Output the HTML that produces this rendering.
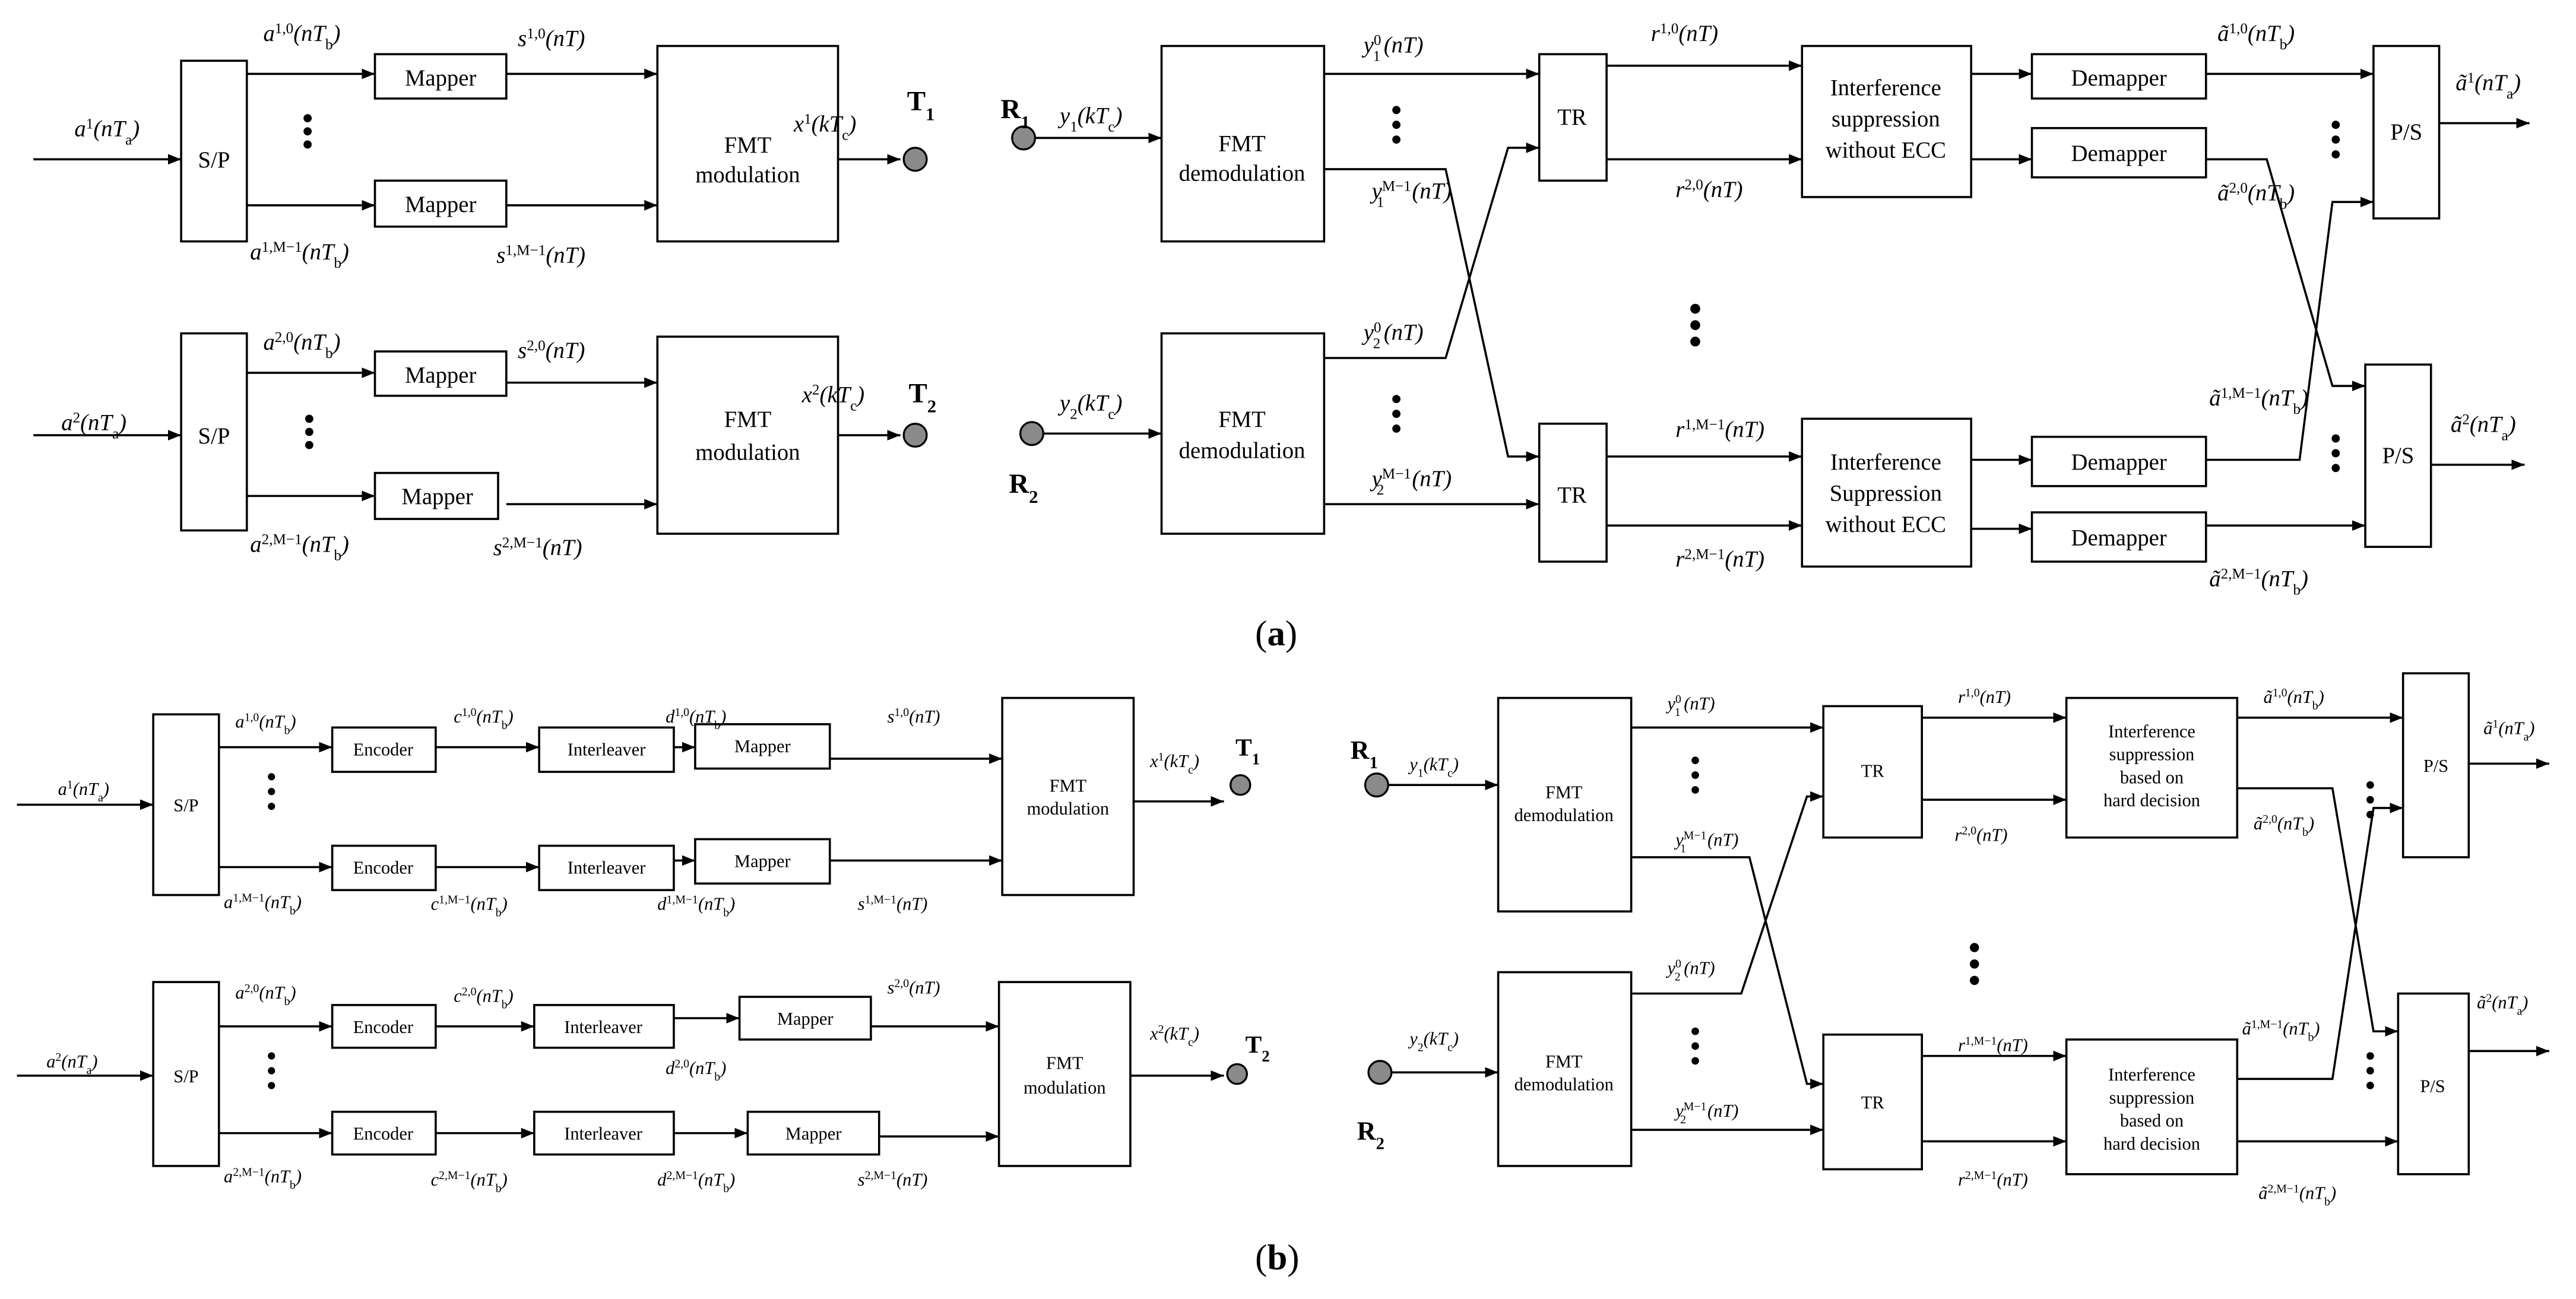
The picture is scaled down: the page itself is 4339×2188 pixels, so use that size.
<!DOCTYPE html>
<html><head><meta charset="utf-8"><style>
html,body{margin:0;padding:0;background:#fff}
svg{display:block}
text{font-family:"Liberation Serif",serif;fill:#000}
.L{font-size:14px;font-style:italic}
.S{font-size:11px;font-style:italic}
.B{font-style:normal;font-size:14px}
.Bs{font-style:normal;font-size:11px}
.sp{baseline-shift:super;font-size:65%;font-style:normal}
.sb{baseline-shift:sub;font-size:65%;font-style:normal}
.bf{font-weight:bold;font-style:normal;font-size:17px}
line,polyline,rect{stroke:#000;stroke-width:1.3;fill:none}
.c{fill:#8a8a8a;stroke:#000;stroke-width:1.2}
</style></head><body>
<svg width="4339" height="2188" viewBox="0 0 1568 791" xmlns="http://www.w3.org/2000/svg">
<defs><marker id="a" viewBox="0 0 10 10" refX="10" refY="5" markerWidth="8" markerHeight="8" markerUnits="userSpaceOnUse" orient="auto"><path d="M0,1L10,5L0,9z" fill="#000"/></marker></defs>

<!-- ===== (a) left ===== -->
<g marker-end="url(#a)">
<line x1="20" y1="97" x2="110" y2="97"/>
<line x1="150" y1="45" x2="228" y2="45"/>
<line x1="150" y1="125" x2="228" y2="125"/>
<line x1="308" y1="45" x2="400" y2="45"/>
<line x1="308" y1="125" x2="400" y2="125"/>
<line x1="510" y1="97" x2="548" y2="97"/>
<line x1="20" y1="265" x2="110" y2="265"/>
<line x1="150" y1="227" x2="228" y2="227"/>
<line x1="150" y1="302" x2="228" y2="302"/>
<line x1="308" y1="233" x2="400" y2="233"/>
<line x1="308" y1="307" x2="400" y2="307"/>
<line x1="510" y1="265" x2="548" y2="265"/>
</g>
<rect x="110" y="37" width="40" height="110"/>
<rect x="228" y="33" width="80" height="27"/>
<rect x="228" y="110" width="80" height="28"/>
<rect x="400" y="28" width="110" height="119"/>
<rect x="110" y="203" width="40" height="120"/>
<rect x="228" y="214" width="80" height="27"/>
<rect x="228" y="288" width="75" height="28"/>
<rect x="400" y="205" width="110" height="120"/>
<text x="130" y="102" class="B" text-anchor="middle">S/P</text>
<text x="130" y="270" class="B" text-anchor="middle">S/P</text>
<text x="268" y="52" class="B" text-anchor="middle">Mapper</text>
<text x="268" y="129" class="B" text-anchor="middle">Mapper</text>
<text x="268" y="233" class="B" text-anchor="middle">Mapper</text>
<text x="266" y="307" class="B" text-anchor="middle">Mapper</text>
<text x="455" y="93" class="B" text-anchor="middle">FMT</text>
<text x="455" y="111" class="B" text-anchor="middle">modulation</text>
<text x="455" y="260" class="B" text-anchor="middle">FMT</text>
<text x="455" y="280" class="B" text-anchor="middle">modulation</text>
<g fill="#000"><circle cx="187" cy="72" r="2.5"/><circle cx="187" cy="80" r="2.5"/><circle cx="187" cy="88" r="2.5"/>
<circle cx="188" cy="255" r="2.5"/><circle cx="188" cy="263" r="2.5"/><circle cx="188" cy="271" r="2.5"/></g>
<circle class="c" cx="557" cy="97" r="7"/><circle class="c" cx="557" cy="265" r="7"/>
<text x="552" y="67" class="bf">T<tspan class="sb">1</tspan></text>
<text x="553" y="245" class="bf">T<tspan class="sb">2</tspan></text>
<text x="45" y="83" class="L">a<tspan class="sp">1</tspan>(nT<tspan class="sb">a</tspan>)</text>
<text x="37" y="262" class="L">a<tspan class="sp">2</tspan>(nT<tspan class="sb">a</tspan>)</text>
<text x="160" y="25" class="L">a<tspan class="sp">1,0</tspan>(nT<tspan class="sb">b</tspan>)</text>
<text x="152" y="158" class="L">a<tspan class="sp">1,M−1</tspan>(nT<tspan class="sb">b</tspan>)</text>
<text x="160" y="213" class="L">a<tspan class="sp">2,0</tspan>(nT<tspan class="sb">b</tspan>)</text>
<text x="152" y="336" class="L">a<tspan class="sp">2,M−1</tspan>(nT<tspan class="sb">b</tspan>)</text>
<text x="315" y="28" class="L">s<tspan class="sp">1,0</tspan>(nT)</text>
<text x="302" y="160" class="L">s<tspan class="sp">1,M−1</tspan>(nT)</text>
<text x="315" y="218" class="L">s<tspan class="sp">2,0</tspan>(nT)</text>
<text x="300" y="338" class="L">s<tspan class="sp">2,M−1</tspan>(nT)</text>
<text x="483" y="80" class="L">x<tspan class="sp">1</tspan>(kT<tspan class="sb">c</tspan>)</text>
<text x="488" y="245" class="L">x<tspan class="sp">2</tspan>(kT<tspan class="sb">c</tspan>)</text>

<!-- ===== (a) right ===== -->
<g marker-end="url(#a)">
<line x1="630" y1="84" x2="707" y2="84"/>
<line x1="635" y1="264" x2="707" y2="264"/>
<line x1="806" y1="45" x2="937" y2="45"/>
<polyline points="806,103 880,103 918,278 937,278"/>
<polyline points="806,218 880,218 918,90 937,90"/>
<line x1="806" y1="307" x2="937" y2="307"/>
<line x1="978" y1="40" x2="1097" y2="40"/>
<line x1="978" y1="97" x2="1097" y2="97"/>
<line x1="978" y1="278" x2="1097" y2="278"/>
<line x1="978" y1="320" x2="1097" y2="320"/>
<line x1="1200" y1="45" x2="1237" y2="45"/>
<line x1="1200" y1="97" x2="1237" y2="97"/>
<line x1="1200" y1="280" x2="1237" y2="280"/>
<line x1="1200" y1="322" x2="1237" y2="322"/>
<line x1="1343" y1="45" x2="1445" y2="45"/>
<polyline points="1343,97 1380,97 1420,235 1440,235"/>
<polyline points="1343,280 1400,280 1420,123 1445,123"/>
<line x1="1343" y1="320" x2="1440" y2="320"/>
<line x1="1485" y1="75" x2="1540" y2="75"/>
<line x1="1480" y1="283" x2="1537" y2="283"/>
</g>
<rect x="707" y="28" width="99" height="119"/>
<rect x="707" y="203" width="99" height="122"/>
<rect x="937" y="33" width="41" height="77"/>
<rect x="937" y="258" width="41" height="84"/>
<rect x="1097" y="28" width="103" height="92"/>
<rect x="1097" y="255" width="103" height="90"/>
<rect x="1237" y="33" width="106" height="27"/>
<rect x="1237" y="78" width="106" height="30"/>
<rect x="1237" y="266" width="106" height="30"/>
<rect x="1237" y="312" width="106" height="30"/>
<rect x="1445" y="28" width="40" height="105"/>
<rect x="1440" y="222" width="40" height="111"/>
<text x="756" y="92" class="B" text-anchor="middle">FMT</text>
<text x="756" y="110" class="B" text-anchor="middle">demodulation</text>
<text x="756" y="260" class="B" text-anchor="middle">FMT</text>
<text x="756" y="279" class="B" text-anchor="middle">demodulation</text>
<text x="957" y="76" class="B" text-anchor="middle">TR</text>
<text x="957" y="306" class="B" text-anchor="middle">TR</text>
<text x="1148" y="58" class="B" text-anchor="middle">Interference</text>
<text x="1148" y="77" class="B" text-anchor="middle">suppression</text>
<text x="1148" y="96" class="B" text-anchor="middle">without ECC</text>
<text x="1148" y="286" class="B" text-anchor="middle">Interference</text>
<text x="1148" y="305" class="B" text-anchor="middle">Suppression</text>
<text x="1148" y="324" class="B" text-anchor="middle">without ECC</text>
<text x="1290" y="52" class="B" text-anchor="middle">Demapper</text>
<text x="1290" y="98" class="B" text-anchor="middle">Demapper</text>
<text x="1290" y="286" class="B" text-anchor="middle">Demapper</text>
<text x="1290" y="332" class="B" text-anchor="middle">Demapper</text>
<text x="1465" y="85" class="B" text-anchor="middle">P/S</text>
<text x="1460" y="282" class="B" text-anchor="middle">P/S</text>
<g fill="#000">
<circle cx="850" cy="67" r="2.5"/><circle cx="850" cy="76" r="2.5"/><circle cx="850" cy="85" r="2.5"/>
<circle cx="850" cy="243" r="2.5"/><circle cx="850" cy="252" r="2.5"/><circle cx="850" cy="261" r="2.5"/>
<circle cx="1032" cy="188" r="3"/><circle cx="1032" cy="198" r="3"/><circle cx="1032" cy="208" r="3"/>
<circle cx="1422" cy="76" r="2.5"/><circle cx="1422" cy="85" r="2.5"/><circle cx="1422" cy="94" r="2.5"/>
<circle cx="1422" cy="267" r="2.5"/><circle cx="1422" cy="276" r="2.5"/><circle cx="1422" cy="285" r="2.5"/></g>
<circle class="c" cx="623" cy="84" r="7"/><circle class="c" cx="628" cy="264" r="7"/>
<text x="609" y="72" class="bf">R<tspan class="sb">1</tspan></text>
<text x="614" y="300" class="bf">R<tspan class="sb">2</tspan></text>
<text x="645" y="75" class="L">y<tspan class="sb">1</tspan>(kT<tspan class="sb">c</tspan>)</text>
<text x="645" y="250" class="L">y<tspan class="sb">2</tspan>(kT<tspan class="sb">c</tspan>)</text>
<text x="830" y="32" class="L">y<tspan class="sp">0</tspan><tspan dx="-5" class="sb">1</tspan><tspan dx="2">(nT)</tspan></text>
<text x="835" y="121" class="L">y<tspan class="sp">M−1</tspan><tspan dx="-21" class="sb">1</tspan><tspan dx="17">(nT)</tspan></text>
<text x="830" y="207" class="L">y<tspan class="sp">0</tspan><tspan dx="-5" class="sb">2</tspan><tspan dx="2">(nT)</tspan></text>
<text x="835" y="296" class="L">y<tspan class="sp">M−1</tspan><tspan dx="-21" class="sb">2</tspan><tspan dx="17">(nT)</tspan></text>
<text x="1005" y="25" class="L">r<tspan class="sp">1,0</tspan>(nT)</text>
<text x="1020" y="120" class="L">r<tspan class="sp">2,0</tspan>(nT)</text>
<text x="1020" y="266" class="L">r<tspan class="sp">1,M−1</tspan>(nT)</text>
<text x="1020" y="345" class="L">r<tspan class="sp">2,M−1</tspan>(nT)</text>
<text x="1350" y="25" class="L">ã<tspan class="sp">1,0</tspan>(nT<tspan class="sb">b</tspan>)</text>
<text x="1350" y="122" class="L">ã<tspan class="sp">2,0</tspan>(nT<tspan class="sb">b</tspan>)</text>
<text x="1345" y="247" class="L">ã<tspan class="sp">1,M−1</tspan>(nT<tspan class="sb">b</tspan>)</text>
<text x="1345" y="357" class="L">ã<tspan class="sp">2,M−1</tspan>(nT<tspan class="sb">b</tspan>)</text>
<text x="1495" y="55" class="L">ã<tspan class="sp">1</tspan>(nT<tspan class="sb">a</tspan>)</text>
<text x="1492" y="263" class="L">ã<tspan class="sp">2</tspan>(nT<tspan class="sb">a</tspan>)</text>
<text x="764" y="393" style="font-size:22px">(<tspan font-weight="bold">a</tspan>)</text>

<!-- ===== (b) left ===== -->
<g marker-end="url(#a)">
<line x1="10" y1="490" x2="93" y2="490"/>
<line x1="133" y1="455" x2="202" y2="455"/>
<line x1="265" y1="455" x2="328" y2="455"/>
<line x1="410" y1="455" x2="423" y2="455"/>
<line x1="505" y1="462" x2="610" y2="462"/>
<line x1="133" y1="528" x2="202" y2="528"/>
<line x1="265" y1="528" x2="328" y2="528"/>
<line x1="410" y1="524" x2="423" y2="524"/>
<line x1="505" y1="524" x2="610" y2="524"/>
<line x1="690" y1="488" x2="745" y2="488"/>
<line x1="10" y1="655" x2="93" y2="655"/>
<line x1="133" y1="625" x2="202" y2="625"/>
<line x1="265" y1="625" x2="325" y2="625"/>
<line x1="410" y1="620" x2="450" y2="620"/>
<line x1="530" y1="625" x2="608" y2="625"/>
<line x1="133" y1="690" x2="202" y2="690"/>
<line x1="265" y1="690" x2="325" y2="690"/>
<line x1="410" y1="690" x2="455" y2="690"/>
<line x1="535" y1="692" x2="608" y2="692"/>
<line x1="688" y1="655" x2="745" y2="655"/>
</g>
<rect x="93" y="435" width="40" height="110"/>
<rect x="202" y="443" width="63" height="27"/>
<rect x="328" y="443" width="82" height="27"/>
<rect x="423" y="441" width="82" height="27"/>
<rect x="202" y="515" width="63" height="27"/>
<rect x="328" y="515" width="82" height="27"/>
<rect x="423" y="511" width="82" height="27"/>
<rect x="610" y="425" width="80" height="120"/>
<rect x="93" y="598" width="40" height="112"/>
<rect x="202" y="612" width="63" height="26"/>
<rect x="325" y="612" width="85" height="26"/>
<rect x="450" y="607" width="80" height="26"/>
<rect x="202" y="677" width="63" height="26"/>
<rect x="325" y="677" width="85" height="26"/>
<rect x="455" y="677" width="80" height="26"/>
<rect x="608" y="598" width="80" height="112"/>
<g text-anchor="middle">
<text x="113" y="494" class="Bs">S/P</text><text x="113" y="659" class="Bs">S/P</text>
<text x="233" y="460" class="Bs">Encoder</text><text x="233" y="532" class="Bs">Encoder</text>
<text x="233" y="629" class="Bs">Encoder</text><text x="233" y="694" class="Bs">Encoder</text>
<text x="369" y="460" class="Bs">Interleaver</text><text x="369" y="532" class="Bs">Interleaver</text>
<text x="367" y="629" class="Bs">Interleaver</text><text x="367" y="694" class="Bs">Interleaver</text>
<text x="464" y="458" class="Bs">Mapper</text><text x="464" y="528" class="Bs">Mapper</text>
<text x="490" y="624" class="Bs">Mapper</text><text x="495" y="694" class="Bs">Mapper</text>
<text x="650" y="482" class="Bs">FMT</text><text x="650" y="496" class="Bs">modulation</text>
<text x="648" y="651" class="Bs">FMT</text><text x="648" y="666" class="Bs">modulation</text>
</g>
<g fill="#000">
<circle cx="165" cy="473" r="2.2"/><circle cx="165" cy="482" r="2.2"/><circle cx="165" cy="491" r="2.2"/>
<circle cx="165" cy="643" r="2.2"/><circle cx="165" cy="652" r="2.2"/><circle cx="165" cy="661" r="2.2"/></g>
<circle class="c" cx="755" cy="478" r="6"/><circle class="c" cx="753" cy="654" r="6"/>
<text x="752" y="460" class="bf" style="font-size:15px">T<tspan class="sb">1</tspan></text>
<text x="758" y="641" class="bf" style="font-size:15px">T<tspan class="sb">2</tspan></text>
<text x="35" y="484" class="S">a<tspan class="sp">1</tspan>(nT<tspan class="sb">a</tspan>)</text>
<text x="28" y="650" class="S">a<tspan class="sp">2</tspan>(nT<tspan class="sb">a</tspan>)</text>
<text x="143" y="443" class="S">a<tspan class="sp">1,0</tspan>(nT<tspan class="sb">b</tspan>)</text>
<text x="136" y="553" class="S">a<tspan class="sp">1,M−1</tspan>(nT<tspan class="sb">b</tspan>)</text>
<text x="143" y="608" class="S">a<tspan class="sp">2,0</tspan>(nT<tspan class="sb">b</tspan>)</text>
<text x="136" y="720" class="S">a<tspan class="sp">2,M−1</tspan>(nT<tspan class="sb">b</tspan>)</text>
<text x="276" y="440" class="S">c<tspan class="sp">1,0</tspan>(nT<tspan class="sb">b</tspan>)</text>
<text x="262" y="554" class="S">c<tspan class="sp">1,M−1</tspan>(nT<tspan class="sb">b</tspan>)</text>
<text x="276" y="610" class="S">c<tspan class="sp">2,0</tspan>(nT<tspan class="sb">b</tspan>)</text>
<text x="262" y="722" class="S">c<tspan class="sp">2,M−1</tspan>(nT<tspan class="sb">b</tspan>)</text>
<text x="405" y="440" class="S">d<tspan class="sp">1,0</tspan>(nT<tspan class="sb">b</tspan>)</text>
<text x="400" y="554" class="S">d<tspan class="sp">1,M−1</tspan>(nT<tspan class="sb">b</tspan>)</text>
<text x="405" y="654" class="S">d<tspan class="sp">2,0</tspan>(nT<tspan class="sb">b</tspan>)</text>
<text x="400" y="722" class="S">d<tspan class="sp">2,M−1</tspan>(nT<tspan class="sb">b</tspan>)</text>
<text x="540" y="440" class="S">s<tspan class="sp">1,0</tspan>(nT)</text>
<text x="522" y="554" class="S">s<tspan class="sp">1,M−1</tspan>(nT)</text>
<text x="540" y="605" class="S">s<tspan class="sp">2,0</tspan>(nT)</text>
<text x="522" y="722" class="S">s<tspan class="sp">2,M−1</tspan>(nT)</text>
<text x="700" y="467" class="S">x<tspan class="sp">1</tspan>(kT<tspan class="sb">c</tspan>)</text>
<text x="700" y="633" class="S">x<tspan class="sp">2</tspan>(kT<tspan class="sb">c</tspan>)</text>

<!-- ===== (b) right ===== -->
<g marker-end="url(#a)">
<line x1="845" y1="478" x2="912" y2="478"/>
<line x1="847" y1="653" x2="912" y2="653"/>
<line x1="993" y1="443" x2="1110" y2="443"/>
<polyline points="993,522 1065,522 1100,660 1110,660"/>
<polyline points="993,605 1060,605 1100,485 1110,485"/>
<line x1="993" y1="688" x2="1110" y2="688"/>
<line x1="1170" y1="437" x2="1258" y2="437"/>
<line x1="1170" y1="487" x2="1258" y2="487"/>
<line x1="1170" y1="643" x2="1258" y2="643"/>
<line x1="1170" y1="695" x2="1258" y2="695"/>
<line x1="1362" y1="437" x2="1463" y2="437"/>
<polyline points="1362,480 1420,480 1445,628 1460,628"/>
<polyline points="1362,657 1420,657 1445,492 1463,492"/>
<line x1="1362" y1="695" x2="1460" y2="695"/>
<line x1="1503" y1="465" x2="1552" y2="465"/>
<line x1="1503" y1="640" x2="1552" y2="640"/>
</g>
<rect x="912" y="425" width="81" height="130"/>
<rect x="912" y="592" width="81" height="118"/>
<rect x="1110" y="430" width="60" height="80"/>
<rect x="1110" y="630" width="60" height="82"/>
<rect x="1258" y="425" width="104" height="85"/>
<rect x="1258" y="633" width="104" height="82"/>
<rect x="1463" y="410" width="40" height="112"/>
<rect x="1460" y="605" width="43" height="110"/>
<g text-anchor="middle">
<text x="952" y="486" class="Bs">FMT</text><text x="952" y="500" class="Bs">demodulation</text>
<text x="952" y="650" class="Bs">FMT</text><text x="952" y="664" class="Bs">demodulation</text>
<text x="1140" y="473" class="Bs">TR</text><text x="1140" y="675" class="Bs">TR</text>
<text x="1310" y="449" class="Bs">Interference</text><text x="1310" y="463" class="Bs">suppression</text>
<text x="1310" y="477" class="Bs">based on</text><text x="1310" y="491" class="Bs">hard decision</text>
<text x="1310" y="658" class="Bs">Interference</text><text x="1310" y="672" class="Bs">suppression</text>
<text x="1310" y="686" class="Bs">based on</text><text x="1310" y="700" class="Bs">hard decision</text>
<text x="1483" y="470" class="Bs">P/S</text><text x="1481" y="665" class="Bs">P/S</text>
</g>
<g fill="#000">
<circle cx="1032" cy="463" r="2.3"/><circle cx="1032" cy="472" r="2.3"/><circle cx="1032" cy="481" r="2.3"/>
<circle cx="1032" cy="628" r="2.3"/><circle cx="1032" cy="637" r="2.3"/><circle cx="1032" cy="646" r="2.3"/>
<circle cx="1202" cy="577" r="2.8"/><circle cx="1202" cy="587" r="2.8"/><circle cx="1202" cy="597" r="2.8"/>
<circle cx="1443" cy="478" r="2.3"/><circle cx="1443" cy="487" r="2.3"/><circle cx="1443" cy="496" r="2.3"/>
<circle cx="1443" cy="643" r="2.3"/><circle cx="1443" cy="652" r="2.3"/><circle cx="1443" cy="661" r="2.3"/></g>
<circle class="c" cx="838" cy="478" r="7"/><circle class="c" cx="840" cy="653" r="7"/>
<text x="822" y="462" class="bf" style="font-size:16px">R<tspan class="sb">1</tspan></text>
<text x="826" y="694" class="bf" style="font-size:16px">R<tspan class="sb">2</tspan></text>
<text x="858" y="469" class="S">y<tspan class="sb">1</tspan>(kT<tspan class="sb">c</tspan>)</text>
<text x="858" y="636" class="S">y<tspan class="sb">2</tspan>(kT<tspan class="sb">c</tspan>)</text>
<text x="1015" y="432" class="S">y<tspan class="sp">0</tspan><tspan dx="-4" class="sb">1</tspan><tspan dx="2">(nT)</tspan></text>
<text x="1020" y="515" class="S">y<tspan class="sp">M−1</tspan><tspan dx="-16" class="sb">1</tspan><tspan dx="13">(nT)</tspan></text>
<text x="1015" y="593" class="S">y<tspan class="sp">0</tspan><tspan dx="-4" class="sb">2</tspan><tspan dx="2">(nT)</tspan></text>
<text x="1020" y="680" class="S">y<tspan class="sp">M−1</tspan><tspan dx="-16" class="sb">2</tspan><tspan dx="13">(nT)</tspan></text>
<text x="1192" y="428" class="S">r<tspan class="sp">1,0</tspan>(nT)</text>
<text x="1190" y="512" class="S">r<tspan class="sp">2,0</tspan>(nT)</text>
<text x="1192" y="640" class="S">r<tspan class="sp">1,M−1</tspan>(nT)</text>
<text x="1192" y="722" class="S">r<tspan class="sp">2,M−1</tspan>(nT)</text>
<text x="1378" y="428" class="S">ã<tspan class="sp">1,0</tspan>(nT<tspan class="sb">b</tspan>)</text>
<text x="1372" y="505" class="S">ã<tspan class="sp">2,0</tspan>(nT<tspan class="sb">b</tspan>)</text>
<text x="1365" y="630" class="S">ã<tspan class="sp">1,M−1</tspan>(nT<tspan class="sb">b</tspan>)</text>
<text x="1375" y="730" class="S">ã<tspan class="sp">2,M−1</tspan>(nT<tspan class="sb">b</tspan>)</text>
<text x="1512" y="447" class="S">ã<tspan class="sp">1</tspan>(nT<tspan class="sb">a</tspan>)</text>
<text x="1508" y="614" class="S">ã<tspan class="sp">2</tspan>(nT<tspan class="sb">a</tspan>)</text>
<text x="764" y="773" style="font-size:22px">(<tspan font-weight="bold">b</tspan>)</text>
</svg>
</body></html>
